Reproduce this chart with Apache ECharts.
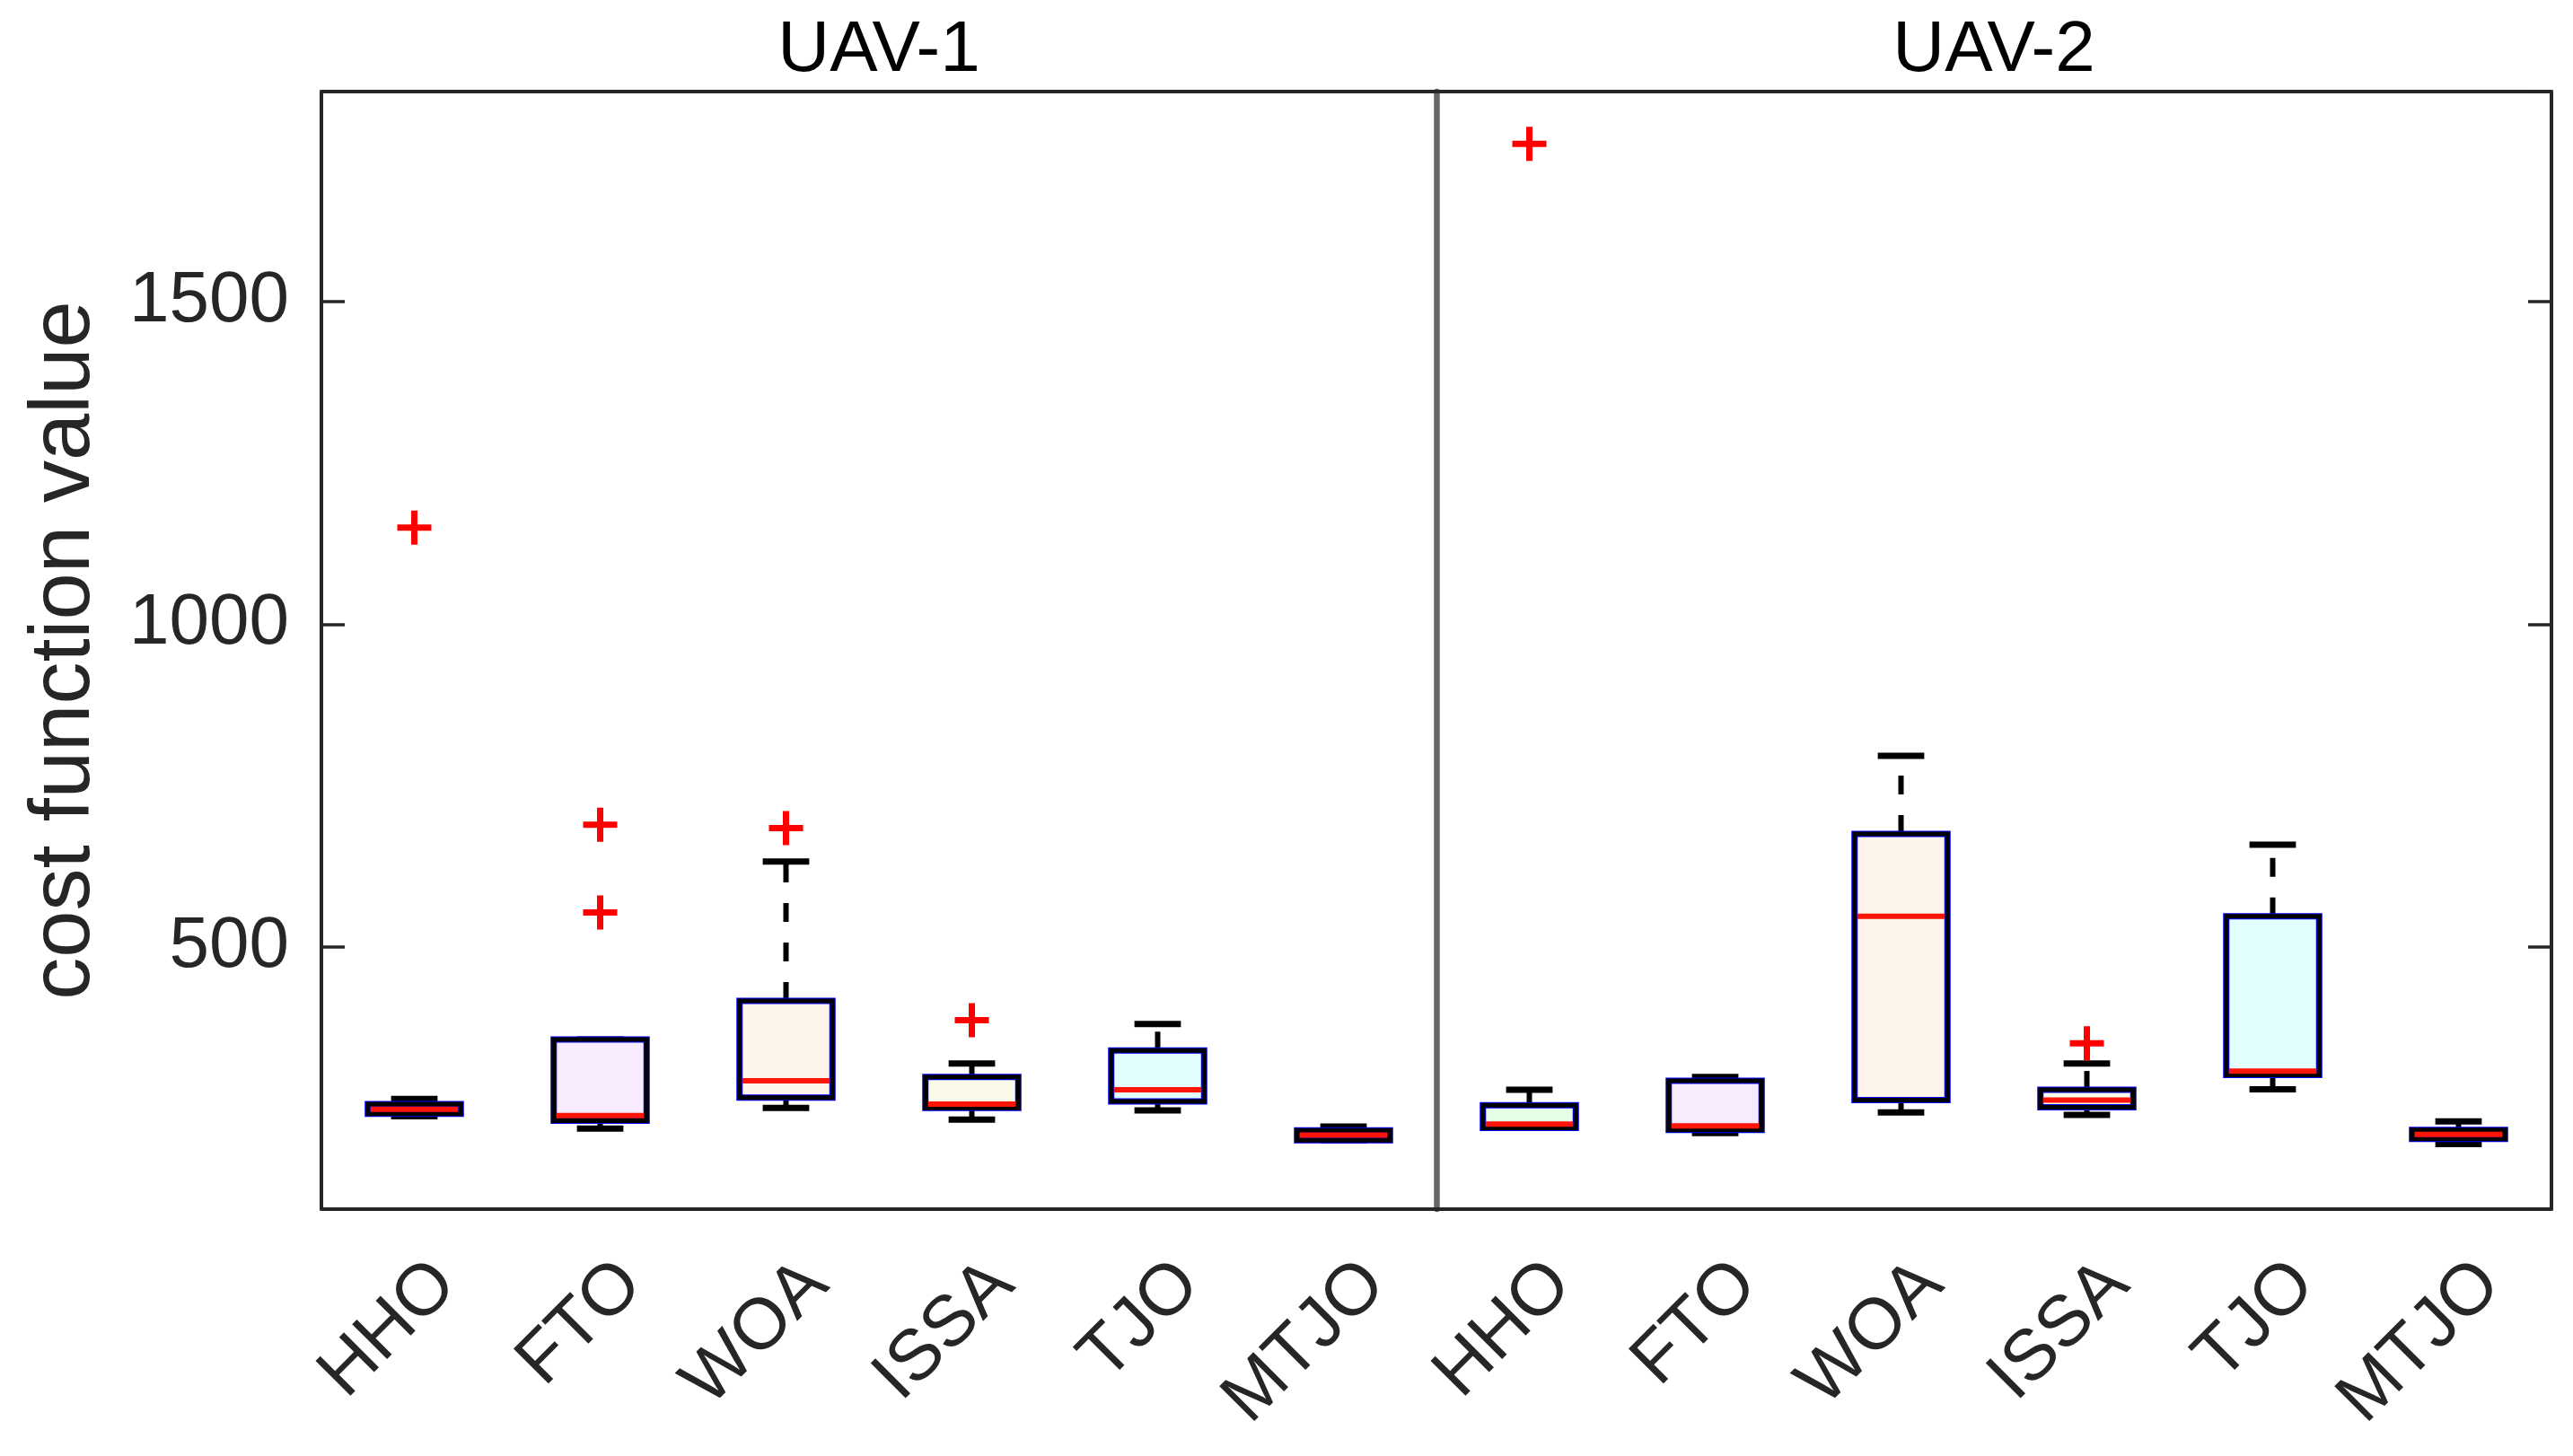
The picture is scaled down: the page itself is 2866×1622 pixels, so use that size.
<!DOCTYPE html>
<html>
<head>
<meta charset="utf-8">
<script src="https://cdn.jsdelivr.net/npm/echarts@6/dist/echarts.min.js"></script>
<style>
html, body { margin: 0; padding: 0; background: #fff; }
#main { width: 2866px; height: 1622px; }
</style>
</head>
<body>
<div id="main"></div>
<script>
// algorithms on the x axis (same for both UAVs)
var categories = ['HHO', 'FTO', 'WOA', 'ISSA', 'TJO', 'MTJO'];
var groups = ['UAV-1', 'UAV-2'];

// box stats per algorithm: [min, q1, median, q3, max]
var uav1Stats = [
    [237, 241, 248, 256, 264],
    [218, 230, 238, 356, 356],
    [250, 266, 292, 416, 632],
    [232, 250, 256, 298, 319],
    [246, 260, 278, 339, 380],
    [200, 200, 208, 215, 221]
];
var uav2Stats = [
    [219, 219, 225, 254, 278],
    [211, 216, 222, 292, 298],
    [243, 262, 547, 675, 796],
    [239, 251, 262, 278, 319],
    [279, 301, 307, 547, 658],
    [194, 202, 209, 216, 229]
];

// outliers per algorithm
var uav1Outliers = [[1150], [689, 553], [684], [386], [], []];
var uav2Outliers = [[1745], [], [], [350], [], []];

var yMin = 93, yMax = 1826;

var boxFills = ['#e6fee6', '#f7ebfd', '#fdf5ea', '#fbfae8', '#e3fefe', '#fbeaea'];
var FONT = 'Liberation Sans, Arial, Helvetica, sans-serif';
var AXIS_COLOR = '#262626';

var myChart = echarts.init(document.getElementById('main'));

function boxData(stats) {
    return stats.map(function (s, i) { return [i].concat(s); });
}
function outlierData(outs) {
    var res = [];
    outs.forEach(function (list, i) {
        list.forEach(function (v) { res.push([i, v]); });
    });
    return res;
}

function renderBox(params, api) {
    var idx = api.value(0);
    var band = api.size([1, 0])[0];
    var boxW = band * 0.5, capW = band * 0.25;
    var pMin = api.coord([idx, api.value(1)]);
    var pQ1 = api.coord([idx, api.value(2)]);
    var pMed = api.coord([idx, api.value(3)]);
    var pQ3 = api.coord([idx, api.value(4)]);
    var pMax = api.coord([idx, api.value(5)]);
    var x = pMed[0];
    var dash = { stroke: '#000', lineWidth: 6, lineDash: [21, 23] };
    var cap = { stroke: '#000', lineWidth: 7 };
    var children = [
        { type: 'line', shape: { x1: x, y1: pQ3[1], x2: x, y2: pMax[1] }, style: dash },
        { type: 'line', shape: { x1: x, y1: pQ1[1], x2: x, y2: pMin[1] }, style: dash },
        { type: 'line', shape: { x1: x - capW / 2, y1: pMax[1], x2: x + capW / 2, y2: pMax[1] }, style: cap },
        { type: 'line', shape: { x1: x - capW / 2, y1: pMin[1], x2: x + capW / 2, y2: pMin[1] }, style: cap },
        { type: 'rect', shape: { x: x - boxW / 2, y: pQ3[1], width: boxW, height: pQ1[1] - pQ3[1] },
          style: { fill: boxFills[idx], stroke: '#0000ff', lineWidth: 7 } },
        { type: 'rect', shape: { x: x - boxW / 2, y: pQ3[1], width: boxW, height: pQ1[1] - pQ3[1] },
          style: { fill: null, stroke: '#000', lineWidth: 5 } },
        { type: 'line', shape: { x1: x - boxW / 2 + 3, y1: pMed[1], x2: x + boxW / 2 - 3, y2: pMed[1] },
          style: { stroke: '#ff1408', lineWidth: 6 } }
    ];
    return { type: 'group', children: children };
}

var plusSymbol = 'path://M0,15.5L38,15.5L38,22.5L0,22.5Z M15.5,0L22.5,0L22.5,38L15.5,38Z';

function bottomAxis(gi) {
    return {
        type: 'category', gridIndex: gi, position: 'bottom', data: categories,
        axisLine: { lineStyle: { color: AXIS_COLOR, width: 4 } },
        axisTick: { inside: true, alignWithLabel: true, length: 26, lineStyle: { color: AXIS_COLOR, width: 3.5 } },
        axisLabel: {
            rotate: 45, align: 'right', verticalAlign: 'top', lineHeight: 97, margin: 37,
            fontSize: 80, fontFamily: FONT, color: AXIS_COLOR, interval: 0
        }
    };
}
function topAxis(gi) {
    return {
        type: 'category', gridIndex: gi, position: 'top', data: categories,
        name: groups[gi], nameLocation: 'middle', nameGap: 5,
        nameTextStyle: { fontSize: 80, fontFamily: FONT, color: '#000' },
        axisLine: { lineStyle: { color: AXIS_COLOR, width: 4 } },
        axisTick: { inside: true, alignWithLabel: true, length: 26, lineStyle: { color: AXIS_COLOR, width: 3.5 } },
        axisLabel: { show: false }
    };
}
function valueAxis(gi, pos, opts) {
    var a = {
        type: 'value', gridIndex: gi, position: pos, min: yMin, max: yMax, splitNumber: 4,
        splitLine: { show: false },
        axisLine: { show: true, lineStyle: { color: AXIS_COLOR, width: 4 } },
        axisTick: { show: false },
        axisLabel: { show: false }
    };
    return Object.assign(a, opts || {});
}

var option = {
    animation: false,
    backgroundColor: '#fff',
    grid: [
        { left: 358, right: 1266, top: 102, bottom: 275 },
        { left: 1600, right: 24, top: 102, bottom: 275 }
    ],
    xAxis: [bottomAxis(0), topAxis(0), bottomAxis(1), topAxis(1)],
    yAxis: [
        valueAxis(0, 'left', {
            name: 'cost function value', nameLocation: 'middle', nameGap: 238,
            nameTextStyle: { fontSize: 94, fontFamily: FONT, color: AXIS_COLOR },
            axisTick: { show: true, inside: true, length: 26, lineStyle: { color: AXIS_COLOR, width: 3.5 } },
            axisLabel: { show: true, showMinLabel: false, showMaxLabel: false, margin: 36,
                fontSize: 80, fontFamily: FONT, color: AXIS_COLOR,
                formatter: function (v) { return String(v); } }
        }),
        valueAxis(0, 'right', { axisLine: { show: true, lineStyle: { color: '#666666', width: 6.5 } } }),
        valueAxis(1, 'left', { axisLine: { show: false } }),
        valueAxis(1, 'right', {
            axisTick: { show: true, inside: true, length: 26, lineStyle: { color: AXIS_COLOR, width: 3.5 } }
        })
    ],
    series: [
        { type: 'custom', xAxisIndex: 0, yAxisIndex: 0, renderItem: renderBox,
          encode: { x: 0, y: [1, 2, 3, 4, 5] }, data: boxData(uav1Stats) },
        { type: 'custom', xAxisIndex: 2, yAxisIndex: 2, renderItem: renderBox,
          encode: { x: 0, y: [1, 2, 3, 4, 5] }, data: boxData(uav2Stats) },
        { type: 'scatter', xAxisIndex: 0, yAxisIndex: 0, symbol: plusSymbol, symbolSize: 38,
          itemStyle: { color: '#ff0000', opacity: 1 }, data: outlierData(uav1Outliers) },
        { type: 'scatter', xAxisIndex: 2, yAxisIndex: 2, symbol: plusSymbol, symbolSize: 38,
          itemStyle: { color: '#ff0000', opacity: 1 }, data: outlierData(uav2Outliers) }
    ]
};

myChart.setOption(option);
</script>
</body>
</html>
